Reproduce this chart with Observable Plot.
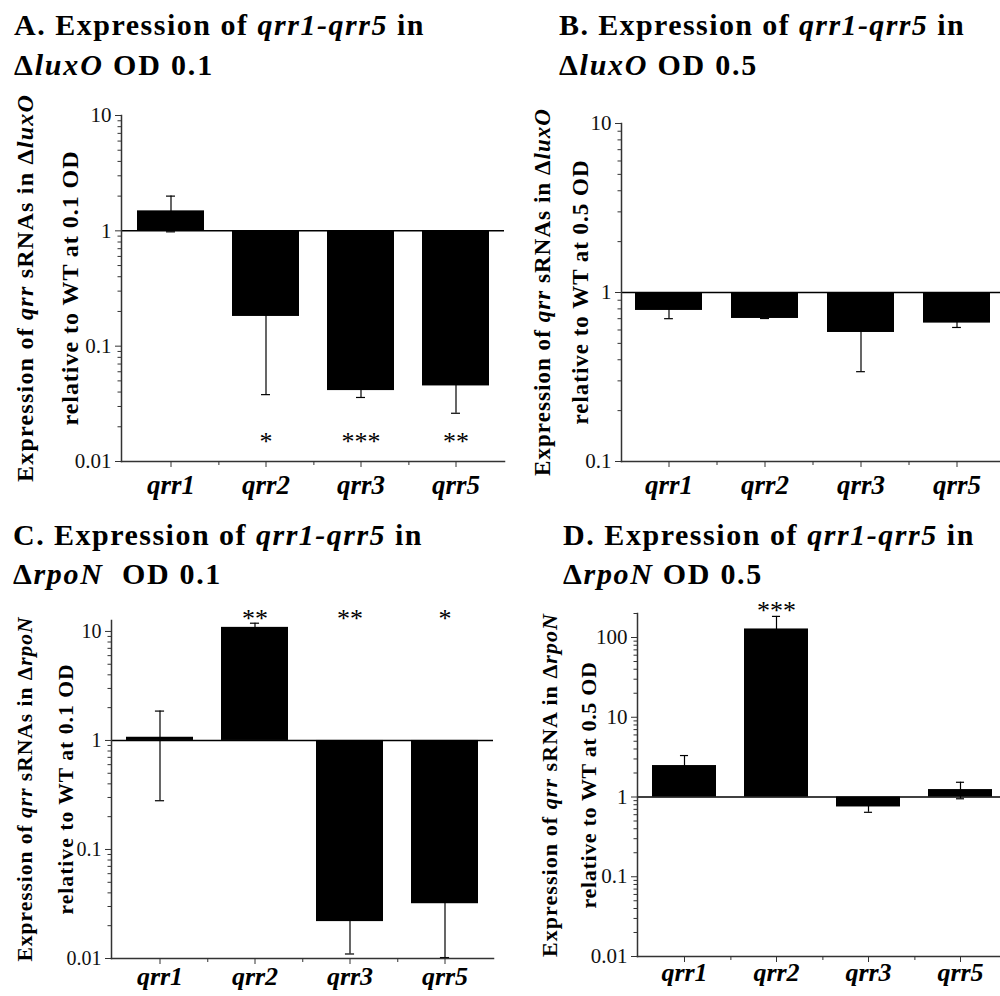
<!DOCTYPE html>
<html><head><meta charset="utf-8">
<script src="https://cdn.jsdelivr.net/npm/d3@7"></script>
<script src="https://cdn.jsdelivr.net/npm/@observablehq/plot@0.6"></script>
<style>
html,body{margin:0;padding:0;background:#fff;overflow:hidden;width:1000px;height:996px}
#page{position:relative;width:1000px;height:996px;overflow:hidden}
</style></head><body><div id="page"></div>
<script>
const SERIF = "'Liberation Serif', 'Times New Roman', serif";
const genes = ["qrr1", "qrr2", "qrr3", "qrr5"];

// Panel A: ΔluxO OD 0.1
const valuesA = [1.49, 0.181, 0.0412, 0.0452];
const errorsA = [0.51, 0.143, 0.0053, 0.019];
const starsA = ["", "*", "***", "**"];
const starLevelA = 0.0167;
const yTicksA = [0.01, 0.1, 1, 10];

// Panel B: ΔluxO OD 0.5
const valuesB = [0.783, 0.702, 0.58, 0.659];
const errorsB = [0.083, 0, 0.24, 0.038];
const starsB = ["", "", "", ""];
const starLevelB = 0.12;
const yTicksB = [0.1, 1, 10];

// Panel C: ΔrpoN OD 0.1
const valuesC = [1.07, 10.9, 0.0218, 0.0318];
const errorsC = [0.79, 1.0, 0.0108, 0.0216];
const starsC = ["", "**", "**", "*"];
const starLevelC = 15.0;
const yTicksC = [0.01, 0.1, 1, 10];

// Panel D: ΔrpoN OD 0.5
const valuesD = [2.48, 128, 0.75, 1.24];
const errorsD = [0.83, 56, 0.107, 0.29];
const starsD = ["", "***", "", ""];
const starLevelD = 258;
const yTicksD = [0.01, 0.1, 1, 10, 100];

const page = document.getElementById("page");

function panel(cfg) {
  const {left, top, width, height, mL, mT, mB, domain, major, vals, errs, stars, starLevel, xfs, xpad, yfs} = cfg;
  const data = genes.map((g, i) => ({gene: g, v: vals[i], lo: vals[i] - errs[i], hi: vals[i] + errs[i], star: stars[i], sy: starLevel}));
  const step = (width - mL) / genes.length;
  const bw = step * 0.70;
  const capIns = (bw - 9) / 2;
  const minor = [];
  for (const m of major) for (let k = 2; k <= 9; k++) { const t = k * m; if (t <= domain[1] * 1.0001) minor.push(t); }
  const chart = Plot.plot({
    width, height, marginLeft: mL, marginRight: 0, marginTop: mT, marginBottom: mB,
    style: {background: "transparent", fontFamily: SERIF, color: "#000", overflow: "visible"},
    x: {domain: genes, paddingInner: 0.30, paddingOuter: 0.15, axis: null},
    y: {type: "log", domain, axis: null},
    marks: [
      Plot.barY(data, {x: "gene", y1: 1, y2: "v", fill: "#000"}),
      Plot.ruleX(data, {x: "gene", y1: "lo", y2: "hi", stroke: "#000", strokeWidth: 1.2}),
      Plot.tickY(data, {x: "gene", y: "hi", insetLeft: capIns, insetRight: capIns, stroke: "#000", strokeWidth: 1.2}),
      Plot.tickY(data, {x: "gene", y: "lo", insetLeft: capIns, insetRight: capIns, stroke: "#000", strokeWidth: 1.2}),
      Plot.ruleY([1], {stroke: "#000", strokeWidth: 1.5}),
      Plot.frame({anchor: "left", stroke: "#333", strokeWidth: 1.5}),
      Plot.frame({anchor: "bottom", stroke: "#333", strokeWidth: 1.5}),
      Plot.axisY({ticks: major, tickSize: 6, tickPadding: 4, tickFormat: d => String(d), fontSize: yfs, stroke: "#333", fill: "#111", label: null}),
      Plot.axisY({ticks: minor, tickSize: 3.5, tickFormat: () => "", stroke: "#333", label: null}),
      Plot.axisX({tickSize: 6, tickPadding: xpad, fontSize: xfs, fontWeight: "bold", fontStyle: "italic", stroke: "#333", fill: "#000", label: null}),
      Plot.axisX({ticks: genes.slice(0, -1), tickSize: 4, tickFormat: () => "", dx: step / 2, stroke: "#333", label: null}),
      Plot.text(data.filter(d => d.star), {x: "gene", y: "sy", text: "star", fontSize: 26, dy: 6, fill: "#000"})
    ]
  });
  chart.style.position = "absolute";
  chart.style.left = left + "px";
  chart.style.top = top + "px";
  chart.style.maxWidth = "none";
  page.appendChild(chart);
}

panel({left: 0, top: 90, width: 504, height: 411, mL: 121, mT: 25, mB: 40, domain: [0.01, 10], major: yTicksA,
  vals: valuesA, errs: errorsA, stars: starsA, starLevel: starLevelA, xfs: 27, xpad: 7, yfs: 21});
panel({left: 500, top: 90, width: 505, height: 411, mL: 121, mT: 33, mB: 40, domain: [0.1, 10], major: yTicksB,
  vals: valuesB, errs: errorsB, stars: starsB, starLevel: starLevelB, xfs: 27, xpad: 7, yfs: 21});
panel({left: 0, top: 580, width: 493, height: 416, mL: 111, mT: 40, mB: 38, domain: [0.01, 12.6], major: yTicksC,
  vals: valuesC, errs: errorsC, stars: starsC, starLevel: starLevelC, xfs: 26, xpad: 2, yfs: 20});
panel({left: 500, top: 575, width: 508, height: 421, mL: 137, mT: 38, mB: 40, domain: [0.01, 200], major: yTicksD,
  vals: valuesD, errs: errorsD, stars: starsD, starLevel: starLevelD, xfs: 26, xpad: 0, yfs: 21});

// Overlay with titles and y-axis labels (rich text)
const NS = "http://www.w3.org/2000/svg";
const ov = document.createElementNS(NS, "svg");
ov.setAttribute("width", 1000); ov.setAttribute("height", 996);
ov.style.position = "absolute"; ov.style.left = "0px"; ov.style.top = "0px"; ov.style.pointerEvents = "none";
ov.style.fontFamily = SERIF;
page.appendChild(ov);

function rich(parts, attrs) {
  const t = document.createElementNS(NS, "text");
  for (const [k, v] of Object.entries(attrs)) t.setAttribute(k, v);
  for (const [s, it] of parts) {
    const ts = document.createElementNS(NS, "tspan");
    ts.textContent = s;
    if (it) ts.setAttribute("font-style", "italic");
    t.appendChild(ts);
  }
  ov.appendChild(t);
  return t;
}
function fit(t, target) {
  t.style.letterSpacing = "0px";
  const L = t.getComputedTextLength();
  const n = t.textContent.length;
  t.style.letterSpacing = ((target - L) / n) + "px";
}

const titles = [
  {x: 14, y1: 35, y2: 75, w1: 411, w2: 200, l1: [["A. Expression of ", 0], ["qrr1-qrr5", 1], [" in", 0]], l2: [["\u0394", 0], ["luxO", 1], [" OD 0.1", 0]]},
  {x: 559, y1: 35, y2: 75, w1: 406, w2: 199, l1: [["B. Expression of ", 0], ["qrr1-qrr5", 1], [" in", 0]], l2: [["\u0394", 0], ["luxO", 1], [" OD 0.5", 0]]},
  {x: 13, y1: 545, y2: 584, w1: 410, w2: 209, l1: [["C. Expression of ", 0], ["qrr1-qrr5", 1], [" in", 0]], l2: [["\u0394", 0], ["rpoN", 1], ["\u00a0 OD 0.1", 0]]},
  {x: 563, y1: 545, y2: 584, w1: 412, w2: 200, l1: [["D. Expression of ", 0], ["qrr1-qrr5", 1], [" in", 0]], l2: [["\u0394", 0], ["rpoN", 1], [" OD 0.5", 0]]}
];
for (const T of titles) {
  const a = rich(T.l1, {x: T.x, y: T.y1, "font-size": 30, "font-weight": "bold", fill: "#000"});
  fit(a, T.w1);
  const b = rich(T.l2, {x: T.x, y: T.y2, "font-size": 30, "font-weight": "bold", fill: "#000"});
  fit(b, T.w2);
}

const ylabels = [
  {cy: 288, x1: 33, x2: 78, fs: 24, w1: 388, w2: 275, l1: [["Expression of ", 0], ["qrr", 1], [" sRNAs in \u0394", 0], ["luxO", 1]], l2: [["relative to WT at 0.1 OD", 0]]},
  {cy: 292, x1: 550, x2: 588, fs: 23, w1: 368, w2: 265, l1: [["Expression of ", 0], ["qrr", 1], [" sRNAs in \u0394", 0], ["luxO", 1]], l2: [["relative to WT at 0.5 OD", 0]]},
  {cy: 789, x1: 32, x2: 73, fs: 21.5, w1: 345, w2: 251, l1: [["Expression of ", 0], ["qrr", 1], [" sRNAs in \u0394", 0], ["rpoN", 1]], l2: [["relative to WT at 0.1 OD", 0]]},
  {cy: 785, x1: 557, x2: 596, fs: 22, w1: 344, w2: 247, l1: [["Expression of ", 0], ["qrr", 1], [" sRNA in \u0394", 0], ["rpoN", 1]], l2: [["relative to WT at 0.5 OD", 0]]}
];
for (const Y of ylabels) {
  const a = rich(Y.l1, {x: 0, y: 0, transform: `translate(${Y.x1},${Y.cy}) rotate(-90)`, "text-anchor": "middle", "font-size": Y.fs, "font-weight": "bold", fill: "#000"});
  fit(a, Y.w1);
  const b = rich(Y.l2, {x: 0, y: 0, transform: `translate(${Y.x2},${Y.cy}) rotate(-90)`, "text-anchor": "middle", "font-size": Y.fs, "font-weight": "bold", fill: "#000"});
  fit(b, Y.w2);
}
</script></body></html>
